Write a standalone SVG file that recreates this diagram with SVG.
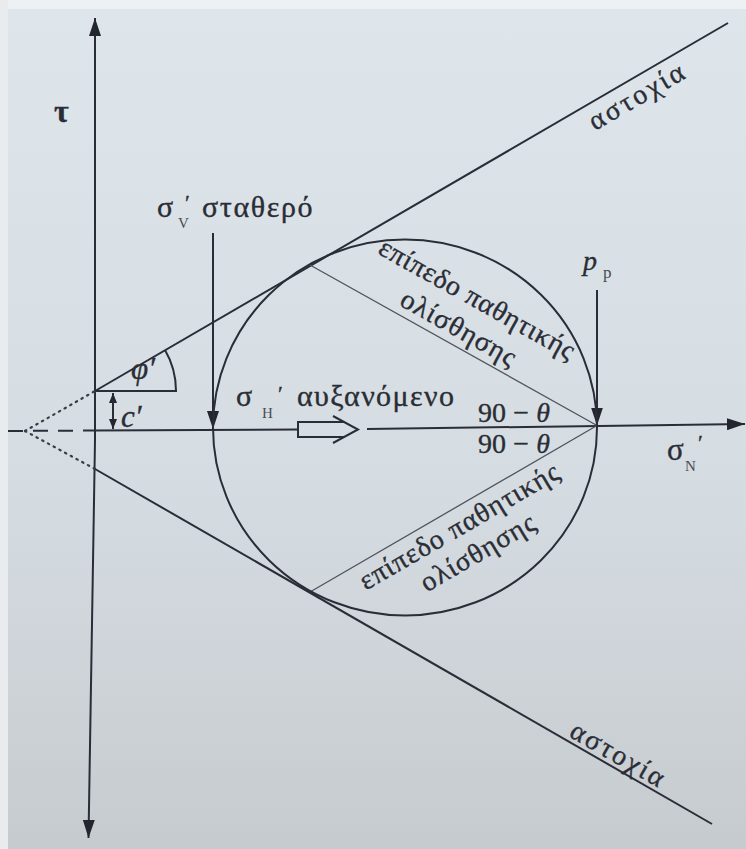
<svg xmlns="http://www.w3.org/2000/svg" width="746" height="849" viewBox="0 0 746 849">
<defs>
<linearGradient id="bg" x1="0" y1="0" x2="0" y2="1">
<stop offset="0" stop-color="#dfe6eb"/>
<stop offset="0.55" stop-color="#d6dde2"/>
<stop offset="1" stop-color="#c6cbcf"/>
</linearGradient>
<marker id="ah" viewBox="0 0 18 12" refX="18" refY="6" markerWidth="18" markerHeight="12" markerUnits="userSpaceOnUse" orient="auto">
<path d="M0,0 L18,6 L0,12 Z" fill="#23252f"/>
</marker>
<marker id="ahs" viewBox="0 0 10 8" refX="10" refY="4" markerWidth="10" markerHeight="8" markerUnits="userSpaceOnUse" orient="auto">
<path d="M0,0 L10,4 L0,8 Z" fill="#23252f"/>
</marker>
<style>
.ln{stroke:#2a2d38;stroke-width:2;fill:none}
.thin{stroke:#50535b;stroke-width:1.3;fill:none}
.dot{stroke:#3a3d46;stroke-width:2.2;fill:none;stroke-dasharray:1.5 5;stroke-linecap:round}
.t{font-family:"Liberation Serif","DejaVu Serif",serif;fill:#2a2d35;stroke:#2a2d35;stroke-width:0.35}
.i{font-style:italic}
.sub{fill:#4a4d55;stroke:none}
</style>
</defs>
<rect width="746" height="849" fill="url(#bg)"/>
<rect x="0" y="0" width="746" height="9" fill="#eef1f3"/>
<rect x="0" y="0" width="8" height="849" fill="#e9ecee"/>

<g id="connectors">
  <path class="ln" d="M95,440 L95,18" marker-end="url(#ah)"/>
  <path class="ln" d="M95,440 L88.5,838" marker-end="url(#ah)"/>
  <path class="ln" d="M8,431 L95,430.5" stroke-dasharray="15 10"/>
  <path class="ln" d="M95,430.5 L298,429.5"/>
  <path class="ln" d="M367,429 L745,424" marker-end="url(#ah)"/>
  <path class="dot" d="M25,431 L95,391"/>
  <path class="dot" d="M25,431 L95,469"/>
  <path class="ln" d="M95,391 L728,23"/>
  <path class="ln" d="M95,469 L712,824"/>
  <path class="ln" d="M95,391 L177,391"/>
  <path class="ln" d="M176,391 A81,81 0 0 0 165,350"/>
  <path class="ln" stroke-width="1.6" d="M113,420 L113,393" marker-end="url(#ahs)"/>
  <path class="ln" stroke-width="1.6" d="M113,400 L113,429" marker-end="url(#ahs)"/>
  <path class="ln" d="M213,233 L213,429" marker-end="url(#ah)"/>
  <path class="ln" stroke-width="1.6" d="M597,290 L597,425.5" marker-end="url(#ah)"/>
  <path class="ln" stroke-width="2.4" d="M344,422 H298 V437 H344 M333,416 L358,429.5 L333,443"/>
  <path class="thin" d="M310,265 L597,425.5"/>
  <path class="thin" d="M310,592 L597,425.5"/>
</g>

<g id="mohr-circle">
  <ellipse class="ln" cx="405" cy="427.5" rx="192" ry="188"/>
</g>

<g id="label-tau">
  <text class="t" x="54" y="122" font-size="32" font-weight="bold">τ</text>
</g>
<g id="label-phi">
  <text class="t i" x="131" y="379" font-size="31">φ′</text>
</g>
<g id="label-c">
  <text class="t i" x="121" y="427" font-size="31">c′</text>
</g>
<g id="label-sigmaV">
  <text class="t" x="157" y="217" font-size="30">σ<tspan class="sub" x="178" y="228" font-size="15">V</tspan><tspan x="185" y="210" font-size="22">′</tspan><tspan x="202" y="217" font-size="30" letter-spacing="1.6">σταθερό</tspan></text>
</g>
<g id="label-sigmaH">
  <text class="t" x="236" y="406" font-size="30">σ<tspan class="sub" x="262" y="418" font-size="15">H</tspan><tspan x="278" y="401" font-size="22">′</tspan><tspan x="297" y="406" font-size="30" letter-spacing="1.4">αυξανόμενο</tspan></text>
</g>
<g id="label-angles">
  <text class="t" x="478" y="422" font-size="28" textLength="72">90 − <tspan class="i">θ</tspan></text>
  <text class="t" x="478" y="453" font-size="28" textLength="72">90 − <tspan class="i">θ</tspan></text>
</g>
<g id="label-sigmaN">
  <text class="t" x="667" y="460" font-size="31">σ<tspan class="sub" x="685" y="471" font-size="15">N</tspan><tspan x="698" y="450" font-size="22">′</tspan></text>
</g>
<g id="label-pp">
  <text class="t i" x="583" y="270" font-size="28">p<tspan class="sub" x="603" y="278" font-size="17" font-style="normal">p</tspan></text>
</g>
<g id="label-failure-upper">
  <text class="t" transform="translate(595,131) rotate(-30.2)" font-size="28" textLength="106">αστοχία</text>
</g>
<g id="label-failure-lower">
  <text class="t" transform="translate(568,736) rotate(29.9)" font-size="28" textLength="104">αστοχία</text>
</g>
<g id="label-plane-upper" transform="translate(453.5,345.25) rotate(29.2)">
  <text class="t" x="-112" y="-43" font-size="28" textLength="220">επίπεδο παθητικής</text>
  <text class="t" x="-68" y="-8.5" font-size="28" textLength="128">ολίσθησης</text>
</g>
<g id="label-plane-lower" transform="translate(453.5,508.75) rotate(-30.1)">
  <text class="t" x="-117" y="27" font-size="28" textLength="226">επίπεδο παθητικής</text>
  <text class="t" x="-65" y="59" font-size="28" textLength="128">ολίσθησης</text>
</g>
</svg>
